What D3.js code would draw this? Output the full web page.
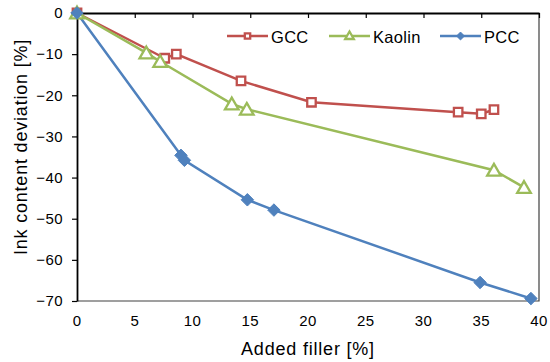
<!DOCTYPE html>
<html>
<head>
<meta charset="utf-8">
<script src="https://cdn.jsdelivr.net/npm/d3@7"></script>
<style>
  body { margin: 0; background: #fff; }
  svg { font-family: "Liberation Sans", Arial, sans-serif; }
</style>
</head>
<body>
<svg id="chart" width="550" height="362"></svg>
<script>
// filler content [%] and ink content deviation [%] per series
var gccX = [0, 7.6, 8.6, 14.2, 20.3, 33.0, 35.0, 36.1];
var gccY = [0, -11.0, -10.0, -16.5, -21.7, -24.1, -24.5, -23.5];
var kaolinX = [0, 6.0, 7.2, 13.4, 14.7, 36.1, 38.7];
var kaolinY = [0, -9.7, -11.8, -22.1, -23.4, -38.2, -42.4];
var pccX = [0, 9.0, 9.3, 14.75, 17.05, 34.9, 39.3];
var pccY = [0, -34.6, -35.8, -45.4, -47.9, -65.5, -69.4];
var xTicks = [0, 5, 10, 15, 20, 25, 30, 35, 40];
var yTicks = [0, -10, -20, -30, -40, -50, -60, -70];

var series = [
    {key: 'GCC', color: '#C0504D', shape: 'square', xs: gccX, ys: gccY},
    {key: 'Kaolin', color: '#9BBB59', shape: 'triangle', xs: kaolinX, ys: kaolinY},
    {key: 'PCC', color: '#4F81BD', shape: 'diamond', xs: pccX, ys: pccY}
];

var margin = ({top: 13, right: 11, bottom: 61, left: 77}),
    width = 550,
    height = 362;

var x = d3.scaleLinear()
    .domain([0, 40])
    .range([margin.left, width - margin.right]);

var y = d3.scaleLinear()
    .domain([-70, 0])
    .range([height - margin.bottom, margin.top]);

var svg = d3.select("svg#chart");

// plot area border (bottom and right)
svg.append("path")
    .attr("d", `M${x(0)},${y(-70)}H${x(40)}V${y(0)}`)
    .attr("fill", "none")
    .attr("stroke", "#404040")
    .attr("stroke-width", 1.2);

// x axis sits on y = 0, ticks point inward, labels placed low
svg.append("g")
    .attr("transform", `translate(0,${y(0)})`)
    .call(d3.axisBottom(x).tickValues(xTicks).tickSize(5).tickSizeOuter(0).tickFormat(""))
    .call(g => g.select(".domain").attr("stroke", "#000").attr("stroke-width", 1.8))
    .call(g => g.selectAll(".tick line").attr("stroke", "#000").attr("stroke-width", 1.2));

svg.append("g")
    .selectAll("text")
    .data(xTicks)
    .join("text")
    .attr("x", d => x(d))
    .attr("y", y(-70) + 25)
    .attr("text-anchor", "middle")
    .attr("font-size", 15)
    .attr("letter-spacing", 0.4)
    .attr("fill", "#000")
    .text(d => d);

svg.append("g")
    .attr("transform", `translate(${margin.left},0)`)
    .call(d3.axisLeft(y).tickValues(yTicks).tickSize(5).tickSizeOuter(0).tickPadding(9))
    .call(g => g.select(".domain").attr("stroke", "#000").attr("stroke-width", 1.8))
    .call(g => g.selectAll(".tick line").attr("stroke", "#000").attr("stroke-width", 1.2))
    .call(g => g.selectAll(".tick text").attr("font-size", 15).attr("fill", "#000")
        .attr("letter-spacing", 0.4)
        .attr("font-family", "Liberation Sans, Arial, sans-serif"));

// axis titles
svg.append("text")
    .attr("transform", `translate(308,355)`)
    .attr("text-anchor", "middle")
    .attr("font-size", 18)
    .attr("letter-spacing", 0.8)
    .text("Added filler [%]");

svg.append("text")
    .attr("transform", `translate(27,147) rotate(-90)`)
    .attr("text-anchor", "middle")
    .attr("font-size", 18)
    .attr("letter-spacing", 0.8)
    .text("Ink content deviation [%]");

var diamond = {
    draw(context, size) {
        var r = Math.sqrt(size / 2);
        context.moveTo(0, -r);
        context.lineTo(r, 0);
        context.lineTo(0, r);
        context.lineTo(-r, 0);
        context.closePath();
    }
};

var symbolOf = {
    square: d3.symbolSquare,
    triangle: d3.symbolTriangle,
    diamond: diamond
};

var markerSize = {square: 72, triangle: 80, diamond: 78};

function drawMarker(sel, s, scale) {
    var shape = s.shape;
    sel.attr("d", d3.symbol().type(symbolOf[shape]).size(markerSize[shape] * scale))
        .attr("fill", shape === 'diamond' ? s.color : '#fff')
        .attr("stroke", s.color)
        .attr("stroke-width", shape === 'diamond' ? 1 : 2.3);
}

var line = d3.line()
    .x(d => x(d[0]))
    .y(d => y(d[1]));

series.forEach(s => {
    var pts = s.xs.map((v, i) => [v, s.ys[i]]);
    svg.append("path")
        .attr("d", line(pts))
        .attr("fill", "none")
        .attr("stroke", s.color)
        .attr("stroke-width", 2.5);
});

series.forEach(s => {
    var pts = s.xs.map((v, i) => [v, s.ys[i]]);
    svg.append("g")
        .selectAll("path")
        .data(pts)
        .join("path")
        .attr("transform", d => `translate(${x(d[0])},${y(d[1]) + (s.shape === 'triangle' ? 1.5 : 0)})`)
        .call(sel => drawMarker(sel, s, 1));
});

// legend
var legendX = [227, 329, 440];
var legend = svg.append("g");
series.forEach((s, i) => {
    var g = legend.append("g").attr("transform", `translate(${legendX[i]},36)`);
    g.append("line")
        .attr("x1", 0).attr("x2", 41)
        .attr("stroke", s.color)
        .attr("stroke-width", 2.5);
    g.append("path")
        .attr("transform", `translate(20.5,${s.shape === 'triangle' ? 0.5 : 0})`)
        .call(sel => drawMarker(sel, s, 0.4));
    g.append("text")
        .attr("x", 44)
        .attr("y", 6.5)
        .attr("font-size", 16.5)
        .attr("letter-spacing", 0.3)
        .text(s.key);
});
</script>
</body>
</html>
